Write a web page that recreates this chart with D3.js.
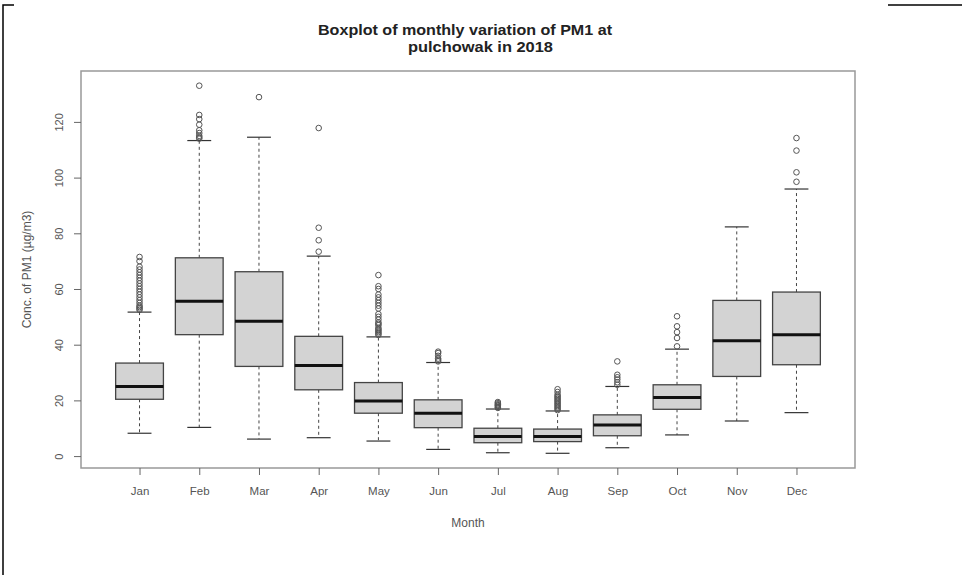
<!DOCTYPE html>
<html><head><meta charset="utf-8">
<script src="https://cdn.jsdelivr.net/npm/d3@7"></script>
<style>
body{margin:0;background:#fff;}
svg{display:block;font-family:"Liberation Sans",Arial,sans-serif;}
</style></head>
<body><svg id="c" width="963" height="575"></svg>
<script>
const months = ["Jan","Feb","Mar","Apr","May","Jun","Jul","Aug","Sep","Oct","Nov","Dec"];
const whiskerLow  = [8.2, 10.3, 6.1, 6.6, 5.4, 2.4, 1.2, 1.0, 3.0, 7.6, 12.6, 15.6];
const q1          = [20.4, 43.6, 32.2, 23.8, 15.4, 10.2, 4.8, 5.2, 7.3, 16.8, 28.6, 32.8];
const median      = [25.0, 55.6, 48.4, 32.5, 19.8, 15.4, 7.0, 7.0, 11.2, 21.0, 41.4, 43.6];
const q3          = [33.4, 71.2, 66.2, 43.0, 26.4, 20.2, 10.0, 9.7, 14.8, 25.6, 55.9, 58.9];
const whiskerHigh = [51.7, 113.3, 114.5, 71.8, 42.8, 33.6, 16.9, 16.2, 25.0, 38.4, 82.3, 95.9];
const outliers = [
  [52.5,53,53.5,54,55,56,57,58,59,60,61,62,63,64,65,66,67,68,70,71.5],
  [114,114.5,115,116,117,119,121,122.5,133],
  [128.9],
  [73.4,77.5,82.0,117.8],
  [43.5,44,44.5,45,45.5,46,47,47.5,48,49,50,51,53,54,55,56,57,58,60,61,65],
  [34,34.5,35,36,37,37.5],
  [17.3,17.6,18,18.3,18.6,19,19.4],
  [16.5,17,17.5,18,18.5,19,19.5,20,20.5,21,21.5,22,23,24],
  [25.6,26.5,27.5,28.3,29.2,34.0],
  [39.4,42.4,44.5,46.6,50.2],
  [],
  [98.5,101.9,109.7,114.2]
];
const yTicks = [0,20,40,60,80,100,120];

const svg = d3.select("#c");
const L=81, R=855, T=71, B=468;
const x = d3.scaleLinear().domain([0.02, 12.98]).range([L, R]);
const y = d3.scaleLinear().domain([-4.28, 138.28]).range([B, T]);
const bw = (x(1.4)-x(0.6));

// screenshot artifact lines
svg.append("path").attr("d","M3,575V5H14").attr("fill","none").attr("stroke","#000").attr("stroke-width",1.5);
svg.append("line").attr("x1",888).attr("x2",962).attr("y1",5).attr("y2",5).attr("stroke","#000").attr("stroke-width",1.5);

// title
svg.append("text").attr("x",465).attr("y",35).attr("text-anchor","middle")
  .attr("font-size",15).attr("font-weight","bold").attr("fill","#222")
  .attr("textLength",294).attr("lengthAdjust","spacingAndGlyphs")
  .text("Boxplot of monthly variation of PM1 at");
svg.append("text").attr("x",480.5).attr("y",52).attr("text-anchor","middle")
  .attr("font-size",15).attr("font-weight","bold").attr("fill","#222")
  .attr("textLength",145).attr("lengthAdjust","spacingAndGlyphs")
  .text("pulchowak in 2018");

const g = svg.append("g");
months.forEach((m,i)=>{
  const cx = x(i+1);
  g.append("line").attr("x1",cx).attr("x2",cx).attr("y1",y(q3[i])).attr("y2",y(whiskerHigh[i]))
    .attr("stroke","#444").attr("stroke-dasharray","3,3");
  g.append("line").attr("x1",cx).attr("x2",cx).attr("y1",y(q1[i])).attr("y2",y(whiskerLow[i]))
    .attr("stroke","#444").attr("stroke-dasharray","3,3");
  [whiskerHigh[i], whiskerLow[i]].forEach(v=>{
    g.append("line").attr("x1",cx-bw/4).attr("x2",cx+bw/4).attr("y1",y(v)).attr("y2",y(v))
      .attr("stroke","#333").attr("stroke-width",1.2);
  });
  g.append("rect").attr("x",cx-bw/2).attr("width",bw).attr("y",y(q3[i])).attr("height",y(q1[i])-y(q3[i]))
    .attr("fill","#d3d3d3").attr("stroke","#444").attr("stroke-width",1.3);
  g.append("line").attr("x1",cx-bw/2).attr("x2",cx+bw/2).attr("y1",y(median[i])).attr("y2",y(median[i]))
    .attr("stroke","#111").attr("stroke-width",3);
  outliers[i].forEach(v=>{
    g.append("circle").attr("cx",cx).attr("cy",y(v)).attr("r",2.8)
      .attr("fill","none").attr("stroke","#555").attr("stroke-width",1);
  });
});

// frame
svg.append("rect").attr("x",L).attr("y",T).attr("width",R-L).attr("height",B-T)
  .attr("fill","none").attr("stroke","#999").attr("stroke-width",1.5);

// y axis
const ya = svg.append("g").attr("transform",`translate(${L},0)`)
  .call(d3.axisLeft(y).tickValues(yTicks).tickSize(7).tickFormat(d3.format("d")));
ya.select(".domain").remove();
ya.selectAll("line").attr("stroke","#666");
ya.selectAll("text").attr("text-anchor","middle").attr("dy",null).attr("x",0).attr("y",0)
  .attr("transform","translate(-18,0) rotate(-90)")
  .attr("font-size",11).attr("fill","#555").attr("font-family","Liberation Sans, Arial, sans-serif");

// x axis
const xa = svg.append("g").attr("transform",`translate(0,${B})`)
  .call(d3.axisBottom(x).tickValues(d3.range(1,13)).tickSize(7).tickPadding(12).tickFormat(d=>months[d-1]));
xa.select(".domain").remove();
xa.selectAll("line").attr("stroke","#666");
xa.selectAll("text").attr("font-size",11.5).attr("fill","#555").attr("font-family","Liberation Sans, Arial, sans-serif");

// axis labels
svg.append("text").attr("x",(L+R)/2).attr("y",527).attr("text-anchor","middle")
  .attr("font-size",12).attr("fill","#555").text("Month");
svg.append("text").attr("transform",`translate(31,${(T+B)/2}) rotate(-90)`).attr("text-anchor","middle")
  .attr("font-size",12).attr("fill","#555").text("Conc. of PM1 (µg/m3)");
</script></body></html>
